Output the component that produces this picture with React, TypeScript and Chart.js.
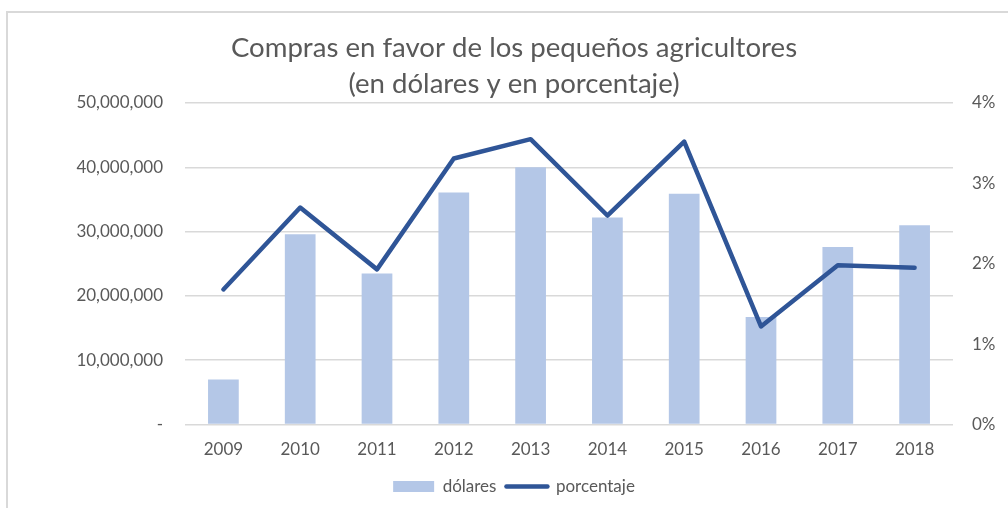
import React, { useEffect, useRef } from "react";
import { Chart, registerables } from "chart.js";

Chart.register(...registerables);

const years = ["2009", "2010", "2011", "2012", "2013", "2014", "2015", "2016", "2017", "2018"];
const dolares = [7.0e6, 29.6e6, 23.5e6, 36.1e6, 40.0e6, 32.2e6, 35.9e6, 16.7e6, 27.6e6, 31.0e6];
const porcentaje = [1.68, 2.7, 1.93, 3.31, 3.55, 2.6, 3.52, 1.22, 1.98, 1.95];
const titleLines = ["Compras en favor de los pequeños agricultores", "(en dólares y en porcentaje)"];
const seriesNames = ["dólares", "porcentaje"];

const BAR_COLOR = "#B4C7E7";
const LINE_COLOR = "#2F5597";
const TEXT_COLOR = "#595959";
const GRID_COLOR = "#D9D9D9";
const FONT = "Lato, 'Noto Sans', sans-serif";

export default function App() {
  const canvasRef = useRef<HTMLCanvasElement | null>(null);

  useEffect(() => {
    const canvas = canvasRef.current;
    if (!canvas) return;
    Chart.defaults.font.family = FONT;
    const chart = new Chart(canvas, {
      type: "bar",
      data: {
        labels: years,
        datasets: [
          {
            type: "bar",
            label: seriesNames[0],
            data: dolares,
            backgroundColor: BAR_COLOR,
            borderWidth: 0,
            yAxisID: "y",
            order: 2,
            categoryPercentage: 1,
            barPercentage: 0.4,
          },
          {
            type: "line",
            label: seriesNames[1],
            data: porcentaje,
            borderColor: LINE_COLOR,
            backgroundColor: LINE_COLOR,
            borderWidth: 4.5,
            borderCapStyle: "round",
            borderJoinStyle: "round",
            pointRadius: 0,
            pointHoverRadius: 0,
            tension: 0,
            yAxisID: "y1",
            order: 1,
          },
        ],
      },
      options: {
        responsive: false,
        animation: false,
        layout: { padding: { top: 0, bottom: 3, left: 20, right: 0 } },
        plugins: {
          tooltip: { enabled: false },
          title: {
            display: true,
            text: titleLines,
            color: TEXT_COLOR,
            font: { size: 27.6, weight: "normal", family: FONT, lineHeight: 36 / 27.6 },
            padding: { top: 30, bottom: 1 },
          },
          legend: {
            display: true,
            position: "bottom",
            labels: {
              color: TEXT_COLOR,
              font: { size: 17, family: FONT },
              usePointStyle: true,
              pointStyleWidth: 41,
              boxHeight: 11,
              padding: 10,
              generateLabels: (ch: any) => {
                const items = (Chart.defaults.plugins.legend.labels as any).generateLabels(ch);
                items.sort((a: any, b: any) => a.datasetIndex - b.datasetIndex);
                return items.map((it: any) =>
                  it.datasetIndex === 0
                    ? { ...it, pointStyle: "rect", lineWidth: 0, fillStyle: BAR_COLOR, strokeStyle: BAR_COLOR }
                    : { ...it, pointStyle: "line", lineWidth: 4.5, fillStyle: LINE_COLOR, strokeStyle: LINE_COLOR, lineCap: "round" }
                );
              },
            },
          },
        },
        scales: {
          x: {
            grid: { display: false, drawTicks: false },
            border: { display: false },
            ticks: { color: TEXT_COLOR, font: { size: 17, family: FONT }, padding: 15, maxRotation: 0 },
            afterFit: (s: any) => {
              s.height = 43.5;
            },
          },
          y: {
            position: "left",
            min: 0,
            max: 50000000,
            grid: { color: GRID_COLOR, lineWidth: 1.5, drawTicks: false },
            border: { display: false },
            ticks: {
              stepSize: 10000000,
              color: TEXT_COLOR,
              font: { size: 17, family: FONT },
              padding: 22,
              callback: (v: any) => (Number(v) === 0 ? "-" : Number(v).toLocaleString("en-US")),
            },
            afterFit: (s: any) => {
              s.width = 165;
            },
          },
          y1: {
            position: "right",
            min: 0,
            max: 4,
            grid: { drawOnChartArea: false, drawTicks: false },
            border: { display: false },
            ticks: {
              stepSize: 1,
              color: TEXT_COLOR,
              font: { size: 17, family: FONT },
              padding: 19,
              callback: (v: any) => `${v}%`,
            },
            afterFit: (s: any) => {
              s.width = 55;
            },
          },
        },
      },
    });
    return () => chart.destroy();
  }, []);

  return (
    <div style={{ position: "fixed", left: 0, top: 0, width: 1008, height: 508, overflow: "hidden", background: "#fff" }}>
      <div
        style={{
          position: "absolute",
          left: 6,
          top: 11,
          width: 1100,
          height: 600,
          border: `2px solid ${GRID_COLOR}`,
          boxSizing: "border-box",
        }}
      />
      <canvas ref={canvasRef} width={1008} height={508} style={{ position: "absolute", left: 0, top: 0, display: "block" }} />
    </div>
  );
}
